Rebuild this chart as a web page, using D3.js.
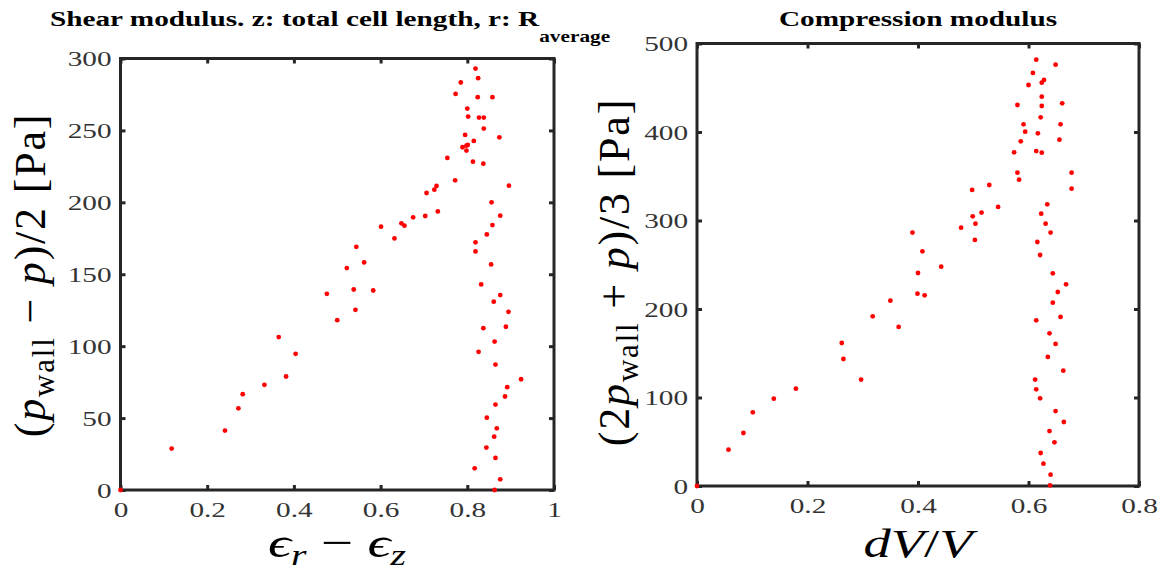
<!DOCTYPE html>
<html><head><meta charset="utf-8">
<script src="https://cdn.jsdelivr.net/npm/d3@7"></script>
<style>
body{margin:0;background:#fff;}
</style></head>
<body><svg id="c" width="1161" height="580"></svg>
<script>
// Left panel: shear modulus
const shearX = [0,0.118,0.241,0.272,0.282,0.332,0.382,0.404,0.365,0.5,0.542,0.476,0.538,0.583,0.522,0.562,0.544,0.632,0.601,0.648,0.655,0.675,0.703,0.732,0.706,0.724,0.729,0.772,0.754,0.813,0.837,0.789,0.798,0.801,0.798,0.815,0.795,0.874,0.838,0.802,0.827,0.838,0.8,0.773,0.824,0.858,0.785,0.825,0.819,
0.896,0.856,0.876,0.858,0.845,0.819,0.819,0.855,0.832,0.876,0.861,0.895,0.889,0.837,0.863,0.826,0.865,0.924,0.892,0.887,0.865,0.845,0.868,0.862,0.844,0.865,0.817,0.876,0.863];
const shearY = [0,28.8,41.3,56.8,66.6,73.1,78.9,94.7,106.3,118.1,125.3,136.4,139.4,138.7,154.3,158.2,169.1,174.9,183.1,185.4,183.8,189.6,190.5,193.7,206.5,208.8,211.4,215.3,230.9,228.3,226.9,238.3,239.4,239.9,236,242.7,246.9,245.2,251.3,259.6,258.9,258.9,265.2,275.4,273.1,273.1,283.3,286.3,293,
211.6,200,190.7,184.2,177.7,172.2,165.9,156.8,142.9,135.5,130.9,123.9,113.5,112.5,103.2,96.1,87.2,77,71.5,65,59.4,50.3,42.9,37.1,29.5,22.3,15.1,7.4,0];
// Right panel: compression modulus
const compX = [0,0.057,0.084,0.101,0.139,0.179,0.262,0.265,0.297,0.318,0.35,0.365,0.39,0.408,0.4,0.442,0.399,0.412,0.478,0.498,0.499,0.504,0.503,0.515,0.529,0.545,0.574,0.58,0.583,0.58,0.586,0.591,0.594,0.6,0.608,0.614,0.614,0.617,0.622,0.624,0.624,0.624,0.628,0.624,0.649,0.661,0.658,0.656,0.678,0.678,
0.634,0.623,0.631,0.64,0.616,0.621,0.644,0.668,0.653,0.644,0.658,0.614,0.638,0.649,0.635,0.663,0.612,0.614,0.621,0.649,0.664,0.638,0.647,0.622,0.627,0.64,0.639];
const compY = [0,41,59.9,83.2,98.7,110,161.6,143.5,120.2,191.7,209.4,179.7,286.3,265.2,240.7,247.8,217.3,215.4,291.9,334.5,304.7,296.4,278,308.9,340.1,315.3,377,354,346.1,430.5,389.5,408.7,400.4,453.1,466.7,481.7,378.5,398.5,416.6,429.4,439.9,455.7,458.8,376.6,476.1,432.4,408.7,391.3,354,336,
318.3,307.7,296.4,286.3,275.7,261,240.3,227.9,219.2,207.2,191,187.2,172.5,160.5,145.8,130.3,120.2,109.2,99.1,84.7,72.3,62.1,49.3,37.3,25.2,12.8,0.8];

const leftXTicks = [0,0.2,0.4,0.6,0.8,1];
const leftXLabels = ["0","0.2","0.4","0.6","0.8","1"];
const leftYTicks = [0,50,100,150,200,250,300];
const rightXTicks = [0,0.2,0.4,0.6,0.8];
const rightXLabels = ["0","0.2","0.4","0.6","0.8"];
const rightYTicks = [0,100,200,300,400,500];

const SERIF = "'Liberation Serif', 'Times New Roman', Tinos, 'DejaVu Serif', 'Noto Serif', serif";
const SX = 1.33; // horizontal stretch of the reference rendering
const svg = d3.select("#c");
const AX = "#262626";

function panel(opts){
  const x = d3.scaleLinear().domain(opts.xd).range([opts.x0, opts.x1]);
  const y = d3.scaleLinear().domain(opts.yd).range([opts.y1, opts.y0]);
  const g = svg.append("g");
  const bottom = g.append("g").attr("transform",`translate(0,${opts.y1})`)
    .call(d3.axisBottom(x).tickValues(opts.xt).tickFormat((d,i)=>opts.xl[i]).tickSize(-5).tickPadding(11));
  const top = g.append("g").attr("transform",`translate(0,${opts.y0})`)
    .call(d3.axisTop(x).tickValues(opts.xt).tickFormat("").tickSize(-5));
  const left = g.append("g").attr("transform",`translate(${opts.x0},0)`)
    .call(d3.axisLeft(y).tickValues(opts.yt).tickSize(-5).tickPadding(9));
  const right = g.append("g").attr("transform",`translate(${opts.x1},0)`)
    .call(d3.axisRight(y).tickValues(opts.yt).tickFormat("").tickSize(-5));
  [bottom,top,left,right].forEach(a=>{
    a.attr("font-family",SERIF).attr("font-size",22);
    a.select(".domain").remove();
    a.selectAll(".tick line").attr("stroke",AX).attr("stroke-width",3);
    a.selectAll(".tick text").attr("fill","#333");
  });
  left.selectAll(".tick text").attr("x",-9/SX).attr("transform",`scale(${SX},1)`);
  bottom.selectAll(".tick text").attr("transform",`scale(${SX},1)`);
  g.append("rect").attr("x",opts.x0).attr("y",opts.y0)
    .attr("width",opts.x1-opts.x0).attr("height",opts.y1-opts.y0)
    .attr("fill","none").attr("stroke",AX).attr("stroke-width",3);
  g.append("g").selectAll("circle").data(opts.xs.map((v,i)=>[v,opts.ys[i]])).join("circle")
    .attr("cx",d=>x(d[0])).attr("cy",d=>y(d[1])).attr("r",2.4).attr("fill","#ff0000");
  return {x,y,g};
}

panel({x0:120.5,x1:554,y0:58.5,y1:490,xd:[0,1],yd:[0,300],xt:leftXTicks,xl:leftXLabels,yt:leftYTicks,xs:shearX,ys:shearY});
panel({x0:697,x1:1139,y0:43.5,y1:486,xd:[0,0.8],yd:[0,500],xt:rightXTicks,xl:rightXLabels,yt:rightYTicks,xs:compX,ys:compY});

function label(tx, ty, rot, size, sx){
  const g = svg.append("g").attr("transform",`translate(${tx},${ty}) scale(${sx},1)` + (rot?` rotate(${rot})`:""));
  return g.append("text").attr("text-anchor","middle").attr("font-family",SERIF).attr("font-size",size).attr("fill","#000");
}

// Titles
const t1 = label(330,26,0,22,SX).attr("font-weight","bold");
t1.append("tspan").text("Shear modulus. z: total cell length, r: R");
t1.append("tspan").attr("dy",16).attr("font-size",16).text("average");
label(918,26,0,22,SX).attr("font-weight","bold").text("Compression modulus");

// X labels
const xl1 = label(337,557,0,43,SX);
xl1.append("tspan").attr("font-style","italic").text("ϵ");
xl1.append("tspan").attr("dy",8).attr("font-size",30).attr("font-style","italic").text("r");
xl1.append("tspan").attr("dy",-8).text(" − ");
xl1.append("tspan").attr("font-style","italic").text("ϵ");
xl1.append("tspan").attr("dy",8).attr("font-size",30).attr("font-style","italic").text("z");

const xl2 = label(918,557,0,41,SX);
xl2.append("tspan").attr("font-style","italic").text("dV");
xl2.append("tspan").text("/");
xl2.append("tspan").attr("font-style","italic").text("V");

// Y labels
const yl1 = label(45,275,-90,44,1).attr("letter-spacing",1.8);
yl1.append("tspan").text("(");
yl1.append("tspan").attr("font-style","italic").text("p");
yl1.append("tspan").attr("dy",9).attr("font-size",31).text("wall");
yl1.append("tspan").attr("dy",-9).text(" − ");
yl1.append("tspan").attr("font-style","italic").text("p");
yl1.append("tspan").text(")/2 [Pa]");

const yl2 = label(629,272,-90,44,1).attr("letter-spacing",1.8);
yl2.append("tspan").text("(2");
yl2.append("tspan").attr("font-style","italic").text("p");
yl2.append("tspan").attr("dy",9).attr("font-size",31).text("wall");
yl2.append("tspan").attr("dy",-9).text(" + ");
yl2.append("tspan").attr("font-style","italic").text("p");
yl2.append("tspan").text(")/3 [Pa]");
</script></body></html>
